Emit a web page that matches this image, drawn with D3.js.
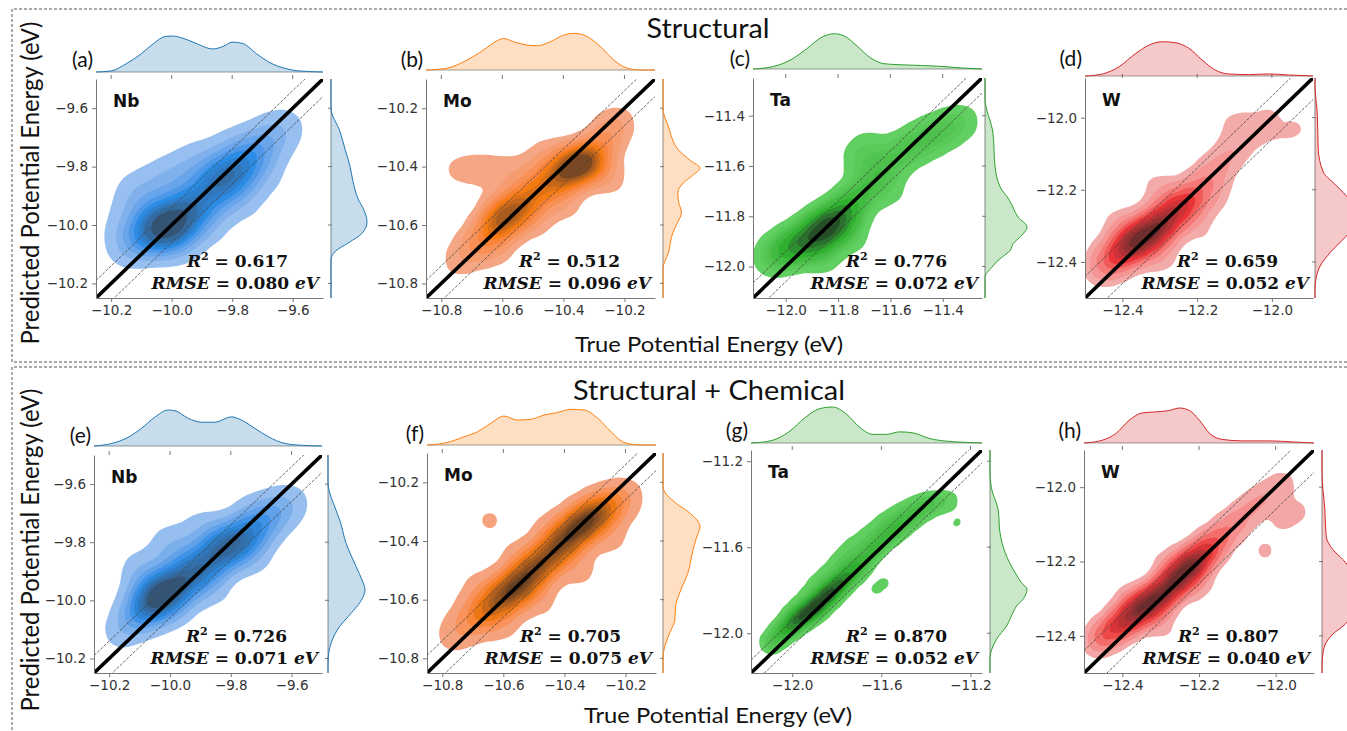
<!DOCTYPE html>
<html>
<head>
<meta charset="utf-8">
<script src="https://cdn.jsdelivr.net/npm/d3@7"></script>
<style>
  body { margin: 0; background: #fff; }
  svg { display: block; }
  .tick text { font-family: "DejaVu Sans", sans-serif; font-size: 13.5px; fill: #333; }
  .tick line, .domain { stroke: #777; }
</style>
</head>
<body>
<svg id="fig" width="1347" height="731"></svg>
<script>
// ---- data ----
const panelLetters = ['(a)', '(b)', '(c)', '(d)', '(e)', '(f)', '(g)', '(h)'];
const elements = ['Nb', 'Mo', 'Ta', 'W', 'Nb', 'Mo', 'Ta', 'W'];
const r2Values = [0.617, 0.512, 0.776, 0.659, 0.726, 0.705, 0.870, 0.807];
const rmseValues = [0.080, 0.096, 0.072, 0.052, 0.071, 0.075, 0.052, 0.040];
const rowTitles = ['Structural', 'Structural + Chemical'];

const axisDomains = [
  [-10.25, -9.5], [-10.85, -10.1], [-12.125, -11.25], [-12.5, -11.89],
  [-10.25, -9.5], [-10.85, -10.1], [-12.185, -11.148], [-12.5, -11.9]
];
const xTickValues = [
  [-10.2, -10.0, -9.8, -9.6], [-10.8, -10.6, -10.4, -10.2], [-12.0, -11.8, -11.6, -11.4], [-12.4, -12.2, -12.0],
  [-10.2, -10.0, -9.8, -9.6], [-10.8, -10.6, -10.4, -10.2], [-12.0, -11.6, -11.2], [-12.4, -12.2, -12.0]
];
const yTickValues = [
  [-9.6, -9.8, -10.0, -10.2], [-10.2, -10.4, -10.6, -10.8], [-11.4, -11.6, -11.8, -12.0], [-12.0, -12.2, -12.4],
  [-9.6, -9.8, -10.0, -10.2], [-10.2, -10.4, -10.6, -10.8], [-11.2, -11.6, -12.0], [-12.0, -12.2, -12.4]
];
const bandOffset = 0.06; // dashed guide lines around y = x

// marginal densities: [energy, relative density]
const topA = [[-10.25,0],[-10.2,0.03],[-10.15,0.23],[-10.1,0.51],[-10.06,0.79],[-10.02,0.99],[-10.0,1.0],[-9.95,0.9],[-9.91,0.76],[-9.865,0.64],[-9.83,0.71],[-9.8,0.83],[-9.765,0.79],[-9.72,0.51],[-9.68,0.28],[-9.62,0.09],[-9.58,0.03],[-9.5,0]];
const rightA = [[-9.5,0],[-9.6,0],[-9.68,0.25],[-9.74,0.39],[-9.8,0.53],[-9.85,0.61],[-9.91,0.75],[-9.95,0.92],[-9.99,1.0],[-10.03,0.85],[-10.06,0.5],[-10.09,0.12],[-10.12,0],[-10.25,0]];
const topB = [[-10.85,0],[-10.781,0.05],[-10.716,0.27],[-10.661,0.55],[-10.617,0.8],[-10.596,0.86],[-10.563,0.77],[-10.519,0.68],[-10.486,0.66],[-10.443,0.77],[-10.399,0.95],[-10.366,1.0],[-10.322,0.91],[-10.279,0.64],[-10.235,0.27],[-10.191,0.05],[-10.148,0],[-10.1,0]];
const rightB = [[-10.1,0],[-10.2,0],[-10.264,0.15],[-10.343,0.42],[-10.38,0.75],[-10.405,1.0],[-10.43,0.8],[-10.456,0.55],[-10.49,0.4],[-10.52,0.42],[-10.558,0.5],[-10.59,0.4],[-10.625,0.27],[-10.693,0.15],[-10.75,0],[-10.85,0]];
const topC = [[-12.125,0],[-12.045,0.075],[-11.981,0.26],[-11.917,0.59],[-11.867,0.88],[-11.816,1.0],[-11.777,0.94],[-11.726,0.64],[-11.675,0.31],[-11.624,0.15],[-11.56,0.12],[-11.484,0.1],[-11.407,0.075],[-11.33,0.03],[-11.25,0]];
const rightC = [[-11.25,0],[-11.33,0],[-11.469,0.19],[-11.603,0.24],[-11.683,0.36],[-11.736,0.58],[-11.803,0.79],[-11.843,1.0],[-11.88,0.85],[-11.909,0.67],[-11.936,0.6],[-11.97,0.35],[-12.003,0.16],[-12.043,0],[-12.125,0]];
const topD = [[-12.5,0],[-12.453,0.06],[-12.409,0.27],[-12.364,0.66],[-12.329,0.9],[-12.293,1.0],[-12.258,0.97],[-12.222,0.81],[-12.187,0.47],[-12.151,0.17],[-12.116,0.06],[-12.062,0.04],[-12.009,0.06],[-11.956,0.03],[-11.89,0]];
const rightD = [[-11.89,0],[-11.91,0],[-11.994,0.06],[-12.086,0.08],[-12.151,0.21],[-12.189,0.54],[-12.226,0.85],[-12.27,1.0],[-12.318,0.85],[-12.374,0.38],[-12.411,0.13],[-12.439,0.04],[-12.476,0],[-12.5,0]];
const topE = [[-10.25,0],[-10.192,0.07],[-10.138,0.24],[-10.094,0.49],[-10.05,0.8],[-10.006,1.0],[-9.984,0.98],[-9.94,0.77],[-9.896,0.66],[-9.853,0.66],[-9.798,0.81],[-9.765,0.72],[-9.721,0.49],[-9.677,0.26],[-9.622,0.07],[-9.567,0.02],[-9.5,0]];
const rightE = [[-9.5,0],[-9.594,0],[-9.691,0.22],[-9.725,0.32],[-9.804,0.49],[-9.884,0.76],[-9.93,0.92],[-9.964,1.0],[-10.0,0.9],[-10.055,0.55],[-10.089,0.32],[-10.145,0.09],[-10.18,0.02],[-10.22,0],[-10.25,0]];
const topF = [[-10.85,0],[-10.784,0.07],[-10.729,0.23],[-10.685,0.37],[-10.641,0.61],[-10.598,0.81],[-10.554,0.7],[-10.51,0.72],[-10.466,0.84],[-10.422,0.91],[-10.379,1.0],[-10.335,0.98],[-10.291,0.75],[-10.247,0.37],[-10.204,0.07],[-10.149,0],[-10.1,0]];
const rightF = [[-10.1,0],[-10.215,0],[-10.272,0.36],[-10.3,0.68],[-10.351,1.0],[-10.39,0.9],[-10.431,0.81],[-10.51,0.67],[-10.577,0.45],[-10.623,0.34],[-10.669,0.32],[-10.714,0.18],[-10.759,0.05],[-10.8,0],[-10.85,0]];
const topG = [[-12.185,0],[-12.091,0.07],[-12.015,0.31],[-11.939,0.72],[-11.879,0.95],[-11.819,1.0],[-11.758,0.81],[-11.698,0.44],[-11.638,0.24],[-11.577,0.24],[-11.517,0.31],[-11.457,0.28],[-11.381,0.12],[-11.305,0.05],[-11.23,0.02],[-11.148,0]];
const rightG = [[-11.148,0],[-11.25,0],[-11.333,0.05],[-11.425,0.22],[-11.533,0.27],[-11.626,0.41],[-11.719,0.68],[-11.765,0.85],[-11.796,1.0],[-11.84,0.9],[-11.873,0.72],[-11.904,0.62],[-11.966,0.45],[-12.027,0.18],[-12.074,0.05],[-12.12,0],[-12.185,0]];
const topH = [[-12.5,0],[-12.452,0.08],[-12.417,0.27],[-12.382,0.65],[-12.348,0.86],[-12.312,0.89],[-12.277,0.93],[-12.251,1.0],[-12.225,0.93],[-12.199,0.65],[-12.172,0.27],[-12.138,0.1],[-12.085,0.06],[-12.015,0.06],[-11.954,0.03],[-11.9,0]];
const rightH = [[-11.9,0],[-11.96,0],[-12.06,0.08],[-12.132,0.12],[-12.168,0.31],[-12.195,0.6],[-12.23,0.88],[-12.27,1.0],[-12.33,0.9],[-12.374,0.6],[-12.391,0.36],[-12.418,0.12],[-12.445,0.03],[-12.48,0],[-12.5,0]];

// joint density anchors: [true, predicted, weight]
const kdeA = [[-10.16,-10.08,0.15],[-10.12,-10.05,0.45],[-10.06,-10.02,1.0],[-10.01,-10.0,1.3],[-9.96,-9.97,0.9],[-9.91,-9.92,0.7],[-9.86,-9.87,0.75],[-9.81,-9.83,0.9],[-9.76,-9.79,0.7],[-9.71,-9.74,0.45],[-9.66,-9.69,0.3],[-9.61,-9.66,0.15],
  [-10.1,-9.92,0.25],[-10.02,-9.86,0.25],[-9.92,-9.8,0.2],[-9.8,-9.72,0.15],[-9.98,-10.07,0.25],[-9.88,-10.0,0.25],[-9.77,-9.92,0.25],[-9.68,-9.84,0.15],
  [-10.12,-9.88,0.2],[-10.0,-9.83,0.2],[-9.9,-9.77,0.15],[-10.18,-9.98,0.1]];
const kdeB = [[-10.74,-10.72,0.2],[-10.68,-10.66,0.45],[-10.62,-10.6,0.9],[-10.58,-10.56,1.0],[-10.53,-10.52,0.7],[-10.48,-10.48,0.6],[-10.43,-10.44,0.7],[-10.38,-10.41,1.0],[-10.34,-10.39,1.1],[-10.3,-10.37,0.7],[-10.26,-10.3,0.35],[-10.22,-10.25,0.2],
  [-10.76,-10.41,0.12],[-10.68,-10.41,0.18],[-10.6,-10.42,0.18],[-10.52,-10.41,0.15],[-10.5,-10.58,0.25],[-10.4,-10.52,0.25],[-10.25,-10.44,0.2],[-10.62,-10.68,0.2],[-10.45,-10.36,0.2]];
const kdeC = [[-12.05,-11.96,0.35],[-11.99,-11.93,0.6],[-11.93,-11.9,0.8],[-11.87,-11.86,1.0],[-11.82,-11.83,1.0],[-11.77,-11.78,0.7],[-11.72,-11.72,0.4],[-11.67,-11.66,0.3],[-11.62,-11.6,0.3],[-11.56,-11.55,0.3],[-11.5,-11.51,0.3],[-11.44,-11.48,0.3],[-11.38,-11.45,0.25],[-11.32,-11.42,0.18],
  [-11.72,-11.57,0.2],[-11.68,-11.52,0.15],[-11.86,-11.95,0.3],[-11.75,-11.88,0.2],[-11.6,-11.7,0.15]];
const kdeD = [[-12.45,-12.41,0.3],[-12.41,-12.38,0.6],[-12.37,-12.35,1.0],[-12.33,-12.32,1.0],[-12.29,-12.29,0.9],[-12.25,-12.25,0.7],[-12.21,-12.22,0.45],[-12.17,-12.17,0.25],[-12.13,-12.12,0.15],[-12.09,-12.08,0.1],[-12.05,-12.03,0.08],[-12.0,-11.98,0.06],
  [-12.4,-12.3,0.15],[-12.3,-12.2,0.12],[-12.3,-12.38,0.15],[-12.2,-12.3,0.1],
  [-12.1,-12.02,0.08],[-12.15,-12.22,0.08],[-11.93,-12.03,0.07],[-11.99,-12.07,0.05]];
const kdeE = [[-10.17,-10.12,0.15],[-10.12,-10.06,0.4],[-10.07,-10.02,0.8],[-10.03,-9.98,1.0],[-9.98,-9.95,0.85],[-9.93,-9.91,0.7],[-9.88,-9.87,0.7],[-9.83,-9.83,0.75],[-9.78,-9.8,0.8],[-9.73,-9.76,0.6],[-9.68,-9.72,0.4],[-9.63,-9.68,0.25],[-9.59,-9.66,0.12],
  [-10.09,-9.93,0.2],[-9.98,-9.85,0.2],[-9.86,-9.77,0.15],[-9.74,-9.68,0.1],[-9.98,-10.04,0.15],[-9.86,-9.96,0.2],[-9.72,-9.86,0.15],
  [-10.1,-9.88,0.15],[-10.0,-9.8,0.2],[-9.9,-9.75,0.15]];
const kdeF = [[-10.77,-10.73,0.12],[-10.72,-10.68,0.3],[-10.66,-10.64,0.6],[-10.6,-10.59,0.85],[-10.55,-10.55,0.9],[-10.5,-10.5,0.8],[-10.45,-10.45,0.8],[-10.4,-10.4,0.85],[-10.35,-10.35,1.0],[-10.3,-10.31,0.8],[-10.25,-10.28,0.45],[-10.2,-10.25,0.2],
  [-10.68,-10.56,0.15],[-10.55,-10.46,0.15],[-10.45,-10.36,0.12],[-10.645,-10.33,0.12],[-10.6,-10.68,0.15],[-10.48,-10.6,0.15],[-10.35,-10.5,0.15],[-10.24,-10.4,0.12]];
const kdeG = [[-12.09,-12.04,0.3],[-12.04,-11.99,0.5],[-11.99,-11.95,0.7],[-11.94,-11.91,0.9],[-11.89,-11.87,1.0],[-11.84,-11.82,1.0],[-11.79,-11.77,0.8],[-11.74,-11.72,0.6],[-11.69,-11.67,0.45],[-11.64,-11.61,0.4],[-11.59,-11.56,0.35],[-11.54,-11.52,0.35],[-11.49,-11.48,0.3],[-11.44,-11.44,0.25],[-11.39,-11.41,0.2],[-11.34,-11.39,0.15],[-11.29,-11.38,0.1],
  [-12.0,-11.9,0.1],[-11.95,-11.84,0.1],[-11.9,-11.78,0.12],[-11.85,-11.73,0.12],[-11.8,-11.68,0.12],[-11.76,-11.635,0.12],[-11.72,-11.59,0.12],[-11.66,-11.54,0.11],[-11.6,-11.49,0.11],[-11.55,-11.46,0.1],[-11.5,-11.43,0.1],[-11.45,-11.41,0.08],[-11.4,-11.39,0.08],
  [-11.28,-11.5,0.05],[-11.24,-11.47,0.05],[-11.63,-11.8,0.07],[-11.58,-11.76,0.07]];
const kdeH = [[-12.46,-12.41,0.3],[-12.42,-12.38,0.5],[-12.38,-12.35,0.7],[-12.34,-12.32,0.85],[-12.3,-12.29,0.9],[-12.26,-12.25,0.95],[-12.22,-12.21,1.0],[-12.18,-12.17,0.6],[-12.14,-12.13,0.3],[-12.1,-12.09,0.2],[-12.06,-12.05,0.15],[-12.02,-12.02,0.12],[-11.98,-11.99,0.1],
  [-12.38,-12.3,0.12],[-12.28,-12.2,0.1],[-12.3,-12.37,0.12],[-12.2,-12.27,0.1],[-11.985,-12.09,0.08],[-11.94,-12.065,0.08],[-12.028,-12.172,0.085]];

const topMarginals = [topA, topB, topC, topD, topE, topF, topG, topH];
const rightMarginals = [rightA, rightB, rightC, rightD, rightE, rightF, rightG, rightH];
const kdeAnchors = [kdeA, kdeB, kdeC, kdeD, kdeE, kdeF, kdeG, kdeH];
const kdeBandwidths = [0.05, 0.04, 0.045, 0.03, 0.045, 0.04, 0.03, 0.026];
// iso-proportion levels: share of the mass lying outside each contour
const levelQuantiles = d3.range(9).map(k => 0.05 + k * 0.95 / 9);

// ---- styling / layout ----
const baseColors = ['#1f77b4', '#ff7f0e', '#2ca02c', '#d62728'];
const kdeRamps = [
  ['#a3c6f0', '#2a8ce6', '#33485f'],
  ['#f2ab8e', '#f57a10', '#5a3a22'],
  ['#66d266', '#2fb02f', '#223d22'],
  ['#f2b3b3', '#ea3338', '#5e2a2a']
];
const rampMid = 0.45;
const layout = [
  {x0: 96, x1: 323, y0: 79, y1: 298, topBase: 72, topH: 36, rightBase: 331, rightH: 36},
  {x0: 426, x1: 655, y0: 79, y1: 298, topBase: 70, topH: 36.7, rightBase: 663, rightH: 37},
  {x0: 753, x1: 982, y0: 78, y1: 298, topBase: 69, topH: 35.3, rightBase: 985, rightH: 42},
  {x0: 1085, x1: 1313, y0: 78, y1: 298, topBase: 76, topH: 34.3, rightBase: 1315, rightH: 40},
  {x0: 94, x1: 322, y0: 455, y1: 673, topBase: 446, topH: 36, rightBase: 328, rightH: 37},
  {x0: 427, x1: 656, y0: 453, y1: 673, topBase: 445, topH: 35.7, rightBase: 663, rightH: 37},
  {x0: 751, x1: 982, y0: 450, y1: 673, topBase: 443, topH: 36, rightBase: 990, rightH: 37},
  {x0: 1084, x1: 1314, y0: 450, y1: 673, topBase: 443, topH: 35, rightBase: 1322, rightH: 35}
];

const svg = d3.select('#fig');
const defs = svg.append('defs');

// dashed frames
const frame = svg.append('g').attr('fill', 'none').attr('stroke', '#555')
  .attr('stroke-width', 1).attr('stroke-dasharray', '3,2');
frame.append('path').attr('d', 'M1347,9 H12 V362 H1347');
frame.append('path').attr('d', 'M1347,367 H12 V731');

// row titles and shared axis labels
const sansFont = 'Lato, "Open Sans", sans-serif';
[[708, 38, 123], [709, 400, 272]].forEach((p, r) => {
  svg.append('text').attr('x', p[0]).attr('y', p[1]).attr('text-anchor', 'middle')
    .attr('font-family', sansFont).attr('font-size', 26).attr('fill', '#111')
    .attr('textLength', p[2]).attr('lengthAdjust', 'spacingAndGlyphs')
    .text(rowTitles[r]);
});
[[709, 352], [718, 723]].forEach(p => {
  svg.append('text').attr('x', p[0]).attr('y', p[1]).attr('text-anchor', 'middle')
    .attr('font-family', sansFont).attr('font-size', 22).attr('fill', '#111')
    .attr('textLength', 268).attr('lengthAdjust', 'spacingAndGlyphs')
    .text('True Potential Energy (eV)');
});
[183, 550].forEach(cy => {
  svg.append('text').attr('transform', `translate(39,${cy}) rotate(-90)`)
    .attr('text-anchor', 'middle')
    .attr('font-family', sansFont).attr('font-size', 25).attr('fill', '#111')
    .attr('textLength', 323).attr('lengthAdjust', 'spacingAndGlyphs')
    .text('Predicted Potential Energy (eV)');
});

const minusFmt = d => d3.format('.1f')(d).replace('-', '\u2212');
const hyphenFmt = d => d3.format('.1f')(d);
const planarArea = d3.geoPath();

// seaborn-style iso-proportion thresholds from a fine set of probe contours
function isoLevels(probe) {
  const s = probe.map(c => c.value);
  const a = probe.map(c => planarArea.area(c));
  const n = s.length;
  const mass = new Array(n);
  let tail = 0;
  for (let j = n - 1; j >= 0; j--) {
    mass[j] = s[j] * a[j] + tail;
    if (j > 0) tail += (s[j] - s[j - 1]) * a[j];
  }
  const total = mass[0];
  const levels = levelQuantiles.map(q => {
    const target = (1 - q) * total;
    let j = 0;
    while (j < n - 1 && mass[j + 1] >= target) j++;
    if (j >= n - 1) return s[n - 1];
    const f = (mass[j] - target) / (mass[j] - mass[j + 1]);
    return s[j] + f * (s[j + 1] - s[j]);
  });
  const top = d3.max(probe.filter(c => c.coordinates.length), c => c.value);
  return {levels, top};
}

function drawPanel(i) {
  const L = layout[i];
  const dom = axisDomains[i];
  const base = baseColors[i % 4];
  const x = d3.scaleLinear().domain(dom).range([L.x0, L.x1]);
  const y = d3.scaleLinear().domain(dom).range([L.y1, L.y0]);
  const w = L.x1 - L.x0, h = L.y1 - L.y0;
  const g = svg.append('g');

  const clipId = 'clip' + i;
  defs.append('clipPath').attr('id', clipId)
    .append('rect').attr('x', L.x0).attr('y', L.y0).attr('width', w).attr('height', h);

  // joint KDE as filled contours
  const bwPx = kdeBandwidths[i] * w / (dom[1] - dom[0]);
  const density = d3.contourDensity()
    .x(d => x(d[0]) - L.x0)
    .y(d => y(d[1]) - L.y0)
    .weight(d => d[2])
    .size([w, h])
    .cellSize(2)
    .bandwidth(bwPx);
  const probe = density.thresholds(300)(kdeAnchors[i]);
  const {levels, top} = isoLevels(probe);
  const bands = density.thresholds(levels)(kdeAnchors[i]);
  const [cLight, cMid, cDark] = kdeRamps[i % 4];
  const ramp = t => t < rampMid
    ? d3.interpolateHcl(cLight, cMid)(t / rampMid)
    : d3.interpolateHcl(cMid, cDark)((t - rampMid) / (1 - rampMid));
  const edges = levels.concat([top]);
  g.append('g').attr('clip-path', `url(#${clipId})`)
    .append('g').attr('transform', `translate(${L.x0},${L.y0})`)
    .selectAll('path').data(bands).join('path')
    .attr('d', d3.geoPath())
    .attr('fill', (d, k) => ramp(((edges[k] + edges[k + 1]) / 2 - edges[0]) / (top - edges[0])));

  // y = x and +/- band
  const lines = g.append('g').attr('clip-path', `url(#${clipId})`);
  [-bandOffset, bandOffset].forEach(off => {
    lines.append('line')
      .attr('x1', x(dom[0])).attr('y1', y(dom[0] + off))
      .attr('x2', x(dom[1])).attr('y2', y(dom[1] + off))
      .attr('stroke', '#444').attr('stroke-width', 0.8).attr('stroke-dasharray', '3,1.5');
  });
  lines.append('line')
    .attr('x1', x(dom[0])).attr('y1', y(dom[0]))
    .attr('x2', x(dom[1])).attr('y2', y(dom[1]))
    .attr('stroke', '#000').attr('stroke-width', 3.6);

  // axes
  const yFmt = (i % 4 === 2) ? hyphenFmt : minusFmt;
  g.append('g').attr('transform', `translate(0,${L.y1})`)
    .call(d3.axisBottom(x).tickValues(xTickValues[i]).tickFormat(minusFmt).tickSize(4).tickSizeOuter(0).tickPadding(3))
    .call(a => a.select('.domain').attr('stroke', '#777'));
  g.append('g').attr('transform', `translate(${L.x0},0)`)
    .call(d3.axisLeft(y).tickValues(yTickValues[i]).tickFormat(yFmt).tickSize(4).tickSizeOuter(0).tickPadding(4))
    .call(a => a.select('.domain').attr('stroke', '#777'));
  g.selectAll('.tick text').attr('font-family', null).attr('font-size', null);

  // top marginal
  const topPts = topMarginals[i];
  const hy = d3.scaleLinear().domain([0, 1]).range([L.topBase, L.topBase - L.topH]);
  g.append('line').attr('x1', L.x0).attr('x2', L.x1).attr('y1', L.topBase).attr('y2', L.topBase)
    .attr('stroke', '#999').attr('stroke-width', 1);
  g.selectAll(null).data(xTickValues[i]).join('line')
    .attr('x1', d => x(d)).attr('x2', d => x(d)).attr('y1', L.y0 - 4).attr('y2', L.y0)
    .attr('stroke', '#777');
  g.append('path').datum(topPts)
    .attr('d', d3.area().x(d => x(d[0])).y0(L.topBase).y1(d => hy(d[1])).curve(d3.curveMonotoneX))
    .attr('fill', base).attr('fill-opacity', 0.25);
  g.append('path').datum(topPts)
    .attr('d', d3.line().x(d => x(d[0])).y(d => hy(d[1])).curve(d3.curveMonotoneX))
    .attr('fill', 'none').attr('stroke', base).attr('stroke-width', 1);

  // right marginal
  const right = rightMarginals[i].slice().sort((a, b) => y(a[0]) - y(b[0]));
  const hx = d3.scaleLinear().domain([0, 1]).range([L.rightBase, L.rightBase + L.rightH]);
  g.append('line').attr('x1', L.rightBase).attr('x2', L.rightBase).attr('y1', L.y0).attr('y2', L.y1)
    .attr('stroke', '#888').attr('stroke-width', 1);
  g.selectAll(null).data(yTickValues[i]).join('line')
    .attr('x1', L.rightBase - 3).attr('x2', L.rightBase + 1).attr('y1', d => y(d)).attr('y2', d => y(d))
    .attr('stroke', '#777');
  g.append('path').datum(right)
    .attr('d', d3.area().y(d => y(d[0])).x0(L.rightBase).x1(d => hx(d[1])).curve(d3.curveMonotoneY))
    .attr('fill', base).attr('fill-opacity', 0.25);
  g.append('path').datum(right)
    .attr('d', d3.line().y(d => y(d[0])).x(d => hx(d[1])).curve(d3.curveMonotoneY))
    .attr('fill', 'none').attr('stroke', base).attr('stroke-width', 1);

  // labels
  g.append('text').attr('x', L.x0 - 3).attr('y', L.y0 - 12).attr('text-anchor', 'end')
    .attr('font-family', sansFont).attr('font-size', 21).attr('fill', '#111')
    .text(panelLetters[i]);
  g.append('text').attr('x', L.x0 + 17).attr('y', L.y0 + 28)
    .attr('font-family', '"DejaVu Sans", sans-serif').attr('font-weight', 'bold')
    .attr('font-size', 17).attr('fill', '#111')
    .text(elements[i]);

  const statFont = '"DejaVu Serif", serif';
  const t1 = g.append('text').attr('x', L.x1 - 35).attr('y', L.y1 - 31).attr('text-anchor', 'end')
    .attr('font-family', statFont).attr('font-weight', 'bold').attr('font-size', 17).attr('fill', '#111');
  t1.append('tspan').attr('font-style', 'italic').text('R');
  t1.append('tspan').attr('font-size', 11).attr('dy', -7).text('2');
  t1.append('tspan').attr('dy', 7).text(' = ' + r2Values[i].toFixed(3));
  const t2 = g.append('text').attr('x', L.x1 - 4).attr('y', L.y1 - 9).attr('text-anchor', 'end')
    .attr('font-family', statFont).attr('font-weight', 'bold').attr('font-size', 17).attr('fill', '#111');
  t2.append('tspan').attr('font-style', 'italic').text('RMSE');
  t2.append('tspan').text(' = ' + rmseValues[i].toFixed(3) + ' ');
  t2.append('tspan').attr('font-style', 'italic').text('eV');
}

d3.range(8).forEach(drawPanel);
</script>
</body>
</html>
